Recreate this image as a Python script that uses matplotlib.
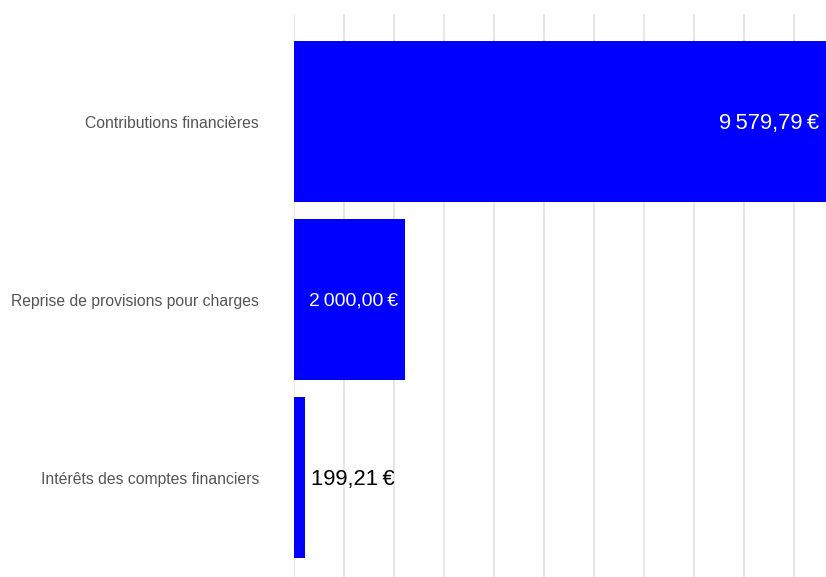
import matplotlib
matplotlib.use("Agg")
import matplotlib.pyplot as plt

categories = ["Contributions financières", "Reprise de provisions pour charges", "Intérêts des comptes financiers"]
values = [9579.79, 2000.00, 199.21]
value_labels = ["9\u202f579,79\u202f€", "2\u202f000,00\u202f€", "199,21\u202f€"]
grid_step = 900

plt.rcParams['font.family'] = ['Liberation Sans', 'DejaVu Sans']

W, H = 826, 577
fig = plt.figure(figsize=(W / 100, H / 100), dpi=100)
left = 294 / W
ax = fig.add_axes([left, 0, 1 - left, 1 - 14 / H])

y = list(range(len(categories)))
ax.barh(y, values, height=0.9, color="#0000ff", zorder=2)
ax.set_ylim(2 + 0.559, -0.604)
ax.set_xlim(0, 9580)

ax.set_xticks([grid_step * i for i in range(11)])
ax.xaxis.grid(True, color="#e3e3e3", linewidth=1.2, zorder=0)
ax.tick_params(axis="x", length=0, labelbottom=False)
ax.set_yticks(y)
ax.set_yticklabels(categories, fontsize=11.3, color="#555555")
ax.tick_params(axis="y", length=0, pad=25.2)
for s in ax.spines.values():
    s.set_visible(False)

for i, (v, lab) in enumerate(zip(values, value_labels)):
    if v > 1000:
        fs = 15.8 if v > 3000 else 14.0
        ax.text(v - 120, i + 0.01, lab, ha="right", va="center", color="white", fontsize=fs)
    else:
        ax.text(v + 110, i + 0.01, lab, ha="left", va="center", color="black", fontsize=15.8)

fig.savefig("out.png", dpi=100)
